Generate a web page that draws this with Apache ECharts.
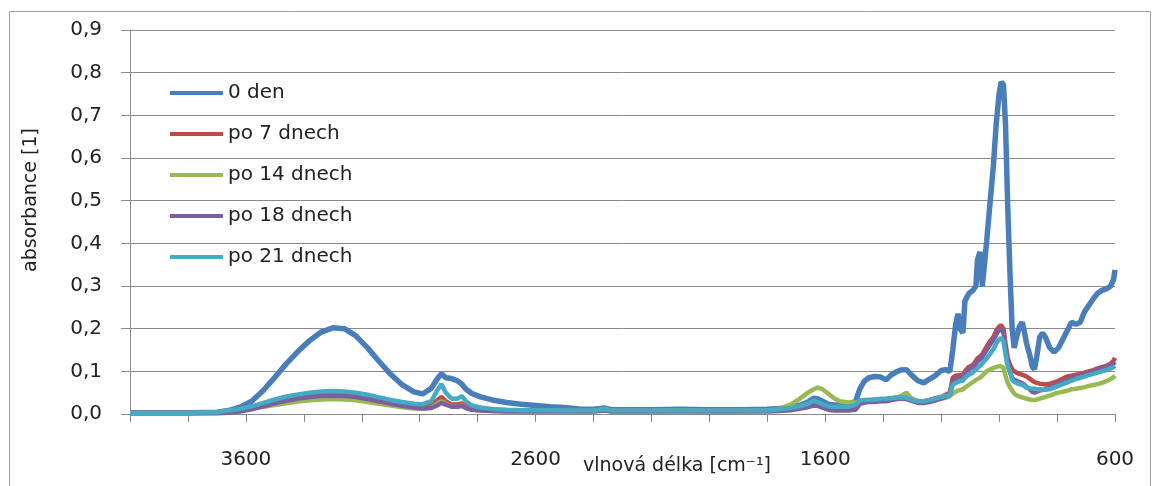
<!DOCTYPE html>
<html>
<head>
<meta charset="utf-8">
<script src="https://cdn.jsdelivr.net/npm/echarts@6/dist/echarts.min.js"></script>
<style>
html,body{margin:0;padding:0;background:#fff;}
#chart{width:1155px;height:486px;}
</style>
</head>
<body>
<div id="chart"></div>
<script>
// Wavenumbers (cm^-1), shared by all series
const wavenumbers = [
  4000,3900,3800,3700,3660,3620,3580,3540,3500,3460,3420,3380,3340,3300,3260,3220,3180,3140,3100,3060,3020,
  2990,2960,2940,2925,2910,2890,2870,2855,2840,2820,2790,2750,2700,2650,2600,2550,2500,2450,2400,2360,2340,
  2300,2200,2100,2000,1900,1800,1760,1720,1690,1660,1640,1625,1610,1590,1570,1550,1520,
  1495,1480,1465,1450,1430,1410,1390,1375,1360,1340,1320,1300,1280,1260,1240,1220,1200,1185,1170,1160,
  1150,1142,1135,1125,1118,1105,1090,1080,1075,1066,1058,1050,1043,1032,1020,1010,1000,993,985,978,
  970,962,955,948,940,930,920,912,905,895,885,878,870,860,850,840,
  825,810,795,780,765,750,735,720,705,690,675,660,645,630,615,605,600
];
const den0 = [
  0.003,0.003,0.003,0.004,0.008,0.016,0.03,0.055,0.086,0.118,0.147,0.172,0.192,0.202,0.2,0.183,0.155,0.123,0.093,0.068,0.052,
  0.047,0.06,0.082,0.094,0.085,0.083,0.078,0.07,0.058,0.048,0.04,0.033,0.027,0.023,0.02,0.017,0.015,0.012,0.011,0.014,0.01,
  0.01,0.01,0.011,0.01,0.01,0.011,0.013,0.016,0.02,0.028,0.037,0.035,0.03,0.023,0.021,0.021,0.023,
  0.03,0.06,0.077,0.085,0.088,0.087,0.08,0.09,0.097,0.103,0.104,0.09,0.078,0.073,0.082,0.09,0.102,0.104,0.1,0.15,
  0.21,0.235,0.2,0.19,0.265,0.282,0.29,0.3,0.36,0.38,0.3,0.355,0.405,0.49,0.58,0.68,0.75,0.778,0.772,0.68,
  0.48,0.32,0.2,0.155,0.18,0.205,0.215,0.19,0.165,0.14,0.11,0.105,0.135,0.18,0.19,0.18,
  0.155,0.145,0.155,0.175,0.195,0.215,0.21,0.215,0.24,0.255,0.27,0.283,0.29,0.293,0.3,0.315,0.338
];
const po7 = [
  0.003,0.003,0.003,0.003,0.005,0.008,0.014,0.021,0.028,0.034,0.039,0.043,0.046,0.047,0.046,0.043,0.038,0.032,0.026,0.021,0.018,
  0.017,0.02,0.032,0.04,0.03,0.022,0.022,0.025,0.018,0.012,0.01,0.009,0.008,0.008,0.008,0.008,0.008,0.008,0.008,0.01,0.008,
  0.008,0.008,0.008,0.008,0.008,0.008,0.01,0.012,0.015,0.02,0.027,0.026,0.022,0.017,0.016,0.015,0.016,
  0.02,0.03,0.032,0.033,0.033,0.035,0.035,0.037,0.038,0.04,0.04,0.035,0.03,0.03,0.033,0.037,0.04,0.045,0.05,0.085,
  0.09,0.09,0.092,0.09,0.1,0.11,0.115,0.125,0.13,0.135,0.14,0.15,0.158,0.17,0.18,0.195,0.205,0.208,0.2,0.165,
  0.13,0.115,0.105,0.1,0.097,0.094,0.092,0.09,0.088,0.083,0.078,0.075,0.073,0.071,0.07,0.069,
  0.071,0.074,0.078,0.083,0.088,0.09,0.092,0.094,0.097,0.1,0.103,0.107,0.11,0.113,0.118,0.125,0.132
];
const po14 = [
  0.002,0.002,0.002,0.004,0.007,0.01,0.013,0.017,0.021,0.025,0.029,0.032,0.034,0.035,0.034,0.032,0.028,0.024,0.02,0.016,0.013,
  0.012,0.015,0.024,0.03,0.024,0.018,0.017,0.02,0.014,0.01,0.008,0.007,0.007,0.007,0.007,0.007,0.007,0.007,0.007,0.012,0.007,
  0.007,0.007,0.008,0.007,0.007,0.008,0.012,0.022,0.035,0.05,0.058,0.062,0.058,0.048,0.037,0.03,0.027,
  0.027,0.028,0.028,0.03,0.031,0.033,0.034,0.034,0.036,0.042,0.05,0.035,0.03,0.029,0.03,0.032,0.036,0.038,0.042,0.048,
  0.052,0.055,0.056,0.058,0.062,0.068,0.075,0.08,0.082,0.085,0.09,0.095,0.1,0.104,0.108,0.11,0.112,0.112,0.108,0.09,
  0.072,0.062,0.055,0.048,0.044,0.041,0.039,0.037,0.036,0.034,0.033,0.033,0.034,0.036,0.038,0.04,
  0.043,0.047,0.05,0.052,0.055,0.058,0.059,0.061,0.063,0.066,0.068,0.07,0.073,0.077,0.082,0.086,0.09
];
const po18 = [
  0.002,0.002,0.002,0.002,0.003,0.006,0.011,0.018,0.025,0.031,0.036,0.04,0.042,0.043,0.042,0.04,0.035,0.03,0.024,0.019,0.015,
  0.013,0.014,0.02,0.026,0.022,0.017,0.017,0.019,0.014,0.01,0.008,0.007,0.006,0.006,0.006,0.006,0.006,0.006,0.006,0.008,0.006,
  0.006,0.006,0.006,0.006,0.006,0.006,0.007,0.009,0.012,0.016,0.02,0.019,0.015,0.01,0.008,0.008,0.008,
  0.01,0.024,0.027,0.028,0.028,0.03,0.03,0.032,0.034,0.036,0.035,0.03,0.026,0.026,0.028,0.032,0.036,0.04,0.045,0.075,
  0.082,0.083,0.085,0.085,0.095,0.105,0.11,0.118,0.123,0.128,0.133,0.142,0.15,0.162,0.173,0.186,0.197,0.2,0.19,0.155,
  0.12,0.097,0.085,0.08,0.078,0.075,0.072,0.068,0.063,0.058,0.052,0.05,0.052,0.055,0.056,0.058,
  0.062,0.067,0.072,0.076,0.08,0.085,0.088,0.09,0.093,0.096,0.1,0.103,0.106,0.11,0.114,0.118,0.122
];
const po21 = [
  0.003,0.003,0.003,0.004,0.008,0.012,0.018,0.026,0.034,0.041,0.046,0.05,0.053,0.054,0.053,0.05,0.045,0.039,0.033,0.028,0.024,
  0.023,0.03,0.055,0.07,0.05,0.036,0.036,0.042,0.03,0.02,0.015,0.012,0.01,0.009,0.009,0.009,0.008,0.008,0.008,0.011,0.008,
  0.008,0.008,0.008,0.008,0.008,0.008,0.011,0.014,0.018,0.024,0.031,0.028,0.023,0.018,0.017,0.017,0.017,
  0.022,0.032,0.033,0.033,0.034,0.035,0.036,0.037,0.038,0.039,0.038,0.033,0.03,0.03,0.033,0.036,0.04,0.042,0.045,0.068,
  0.073,0.075,0.077,0.078,0.085,0.092,0.098,0.104,0.108,0.113,0.118,0.125,0.13,0.14,0.152,0.165,0.175,0.178,0.17,0.14,
  0.11,0.1,0.08,0.075,0.073,0.07,0.068,0.065,0.062,0.06,0.06,0.059,0.058,0.058,0.057,0.057,
  0.058,0.062,0.066,0.07,0.074,0.078,0.082,0.085,0.088,0.091,0.094,0.097,0.1,0.103,0.107,0.11,0.113
];
const seriesNames = ['0 den','po 7 dnech','po 14 dnech','po 18 dnech','po 21 dnech'];
const seriesValues = [den0, po7, po14, po18, po21];
const xLabelValues = [3600, 2600, 1600, 600];

const colors = ['#4a7ebb','#be4b48','#98b954','#7d5fa0','#46aac5'];
const widths = [5.5, 4.5, 4.5, 4.5, 4.5];
const FONT = 'DejaVu Sans';
const TXT = '#222';

const chart = echarts.init(document.getElementById('chart'), null, {renderer:'canvas'});
const series = seriesNames.map((name, i) => ({
  name: name,
  type: 'line',
  symbol: 'none',
  smooth: false,
  color: colors[i],
  lineStyle: {width: widths[i], color: colors[i]},
  data: wavenumbers.map((w, k) => [w, seriesValues[i][k]]),
  animation: false
}));

chart.setOption({
  animation: false,
  grid: {left: 130, right: 40, top: 30, bottom: 72},
  legend: {
    orient: 'vertical',
    left: 165,
    top: 78,
    icon: 'rect',
    itemWidth: 53,
    itemHeight: 4,
    itemGap: 21,
    textStyle: {fontFamily: FONT, fontSize: 20, color: TXT, lineHeight: 20},
    data: seriesNames
  },
  xAxis: {
    type: 'value',
    min: 600,
    max: 4000,
    interval: 200,
    inverse: true,
    axisLine: {show: true, lineStyle: {color: '#8a8a8a', width: 1}},
    axisTick: {show: true, length: 8, lineStyle: {color: '#8a8a8a'}},
    splitLine: {show: false},
    axisLabel: {
      margin: 36,
      fontFamily: FONT, fontSize: 20, color: TXT, lineHeight: 20,
      formatter: v => xLabelValues.indexOf(v) >= 0 ? String(v) : ''
    }
  },
  yAxis: {
    type: 'value',
    min: 0,
    max: 0.9,
    interval: 0.1,
    axisLine: {show: true, lineStyle: {color: '#8a8a8a', width: 1}},
    axisTick: {show: true, length: 9, lineStyle: {color: '#8a8a8a'}},
    splitLine: {show: true, lineStyle: {color: '#8a8a8a', width: 1}},
    axisLabel: {
      margin: 28,
      fontFamily: FONT, fontSize: 20, color: TXT,
      formatter: v => v.toFixed(1).replace('.', ',')
    }
  },
  graphic: [
    {type: 'rect', left: 7, top: 9, z: -10, silent: true,
     shape: {x: 0, y: 0, width: 1141, height: 500},
     style: {fill: 'none', stroke: '#a0a0a0', lineWidth: 1}},
    {type: 'text', x: 31, y: 200, rotation: Math.PI / 2,
     style: {text: 'absorbance [1]', font: '19px "DejaVu Sans"', fill: TXT, align: 'center', verticalAlign: 'middle'}},
    {type: 'text', x: 583, y: 466,
     style: {text: 'vlnová délka [cm⁻¹]', font: '19px "DejaVu Sans"', fill: TXT, align: 'left', verticalAlign: 'middle'}}
  ],
  series: series
});
</script>
</body>
</html>
